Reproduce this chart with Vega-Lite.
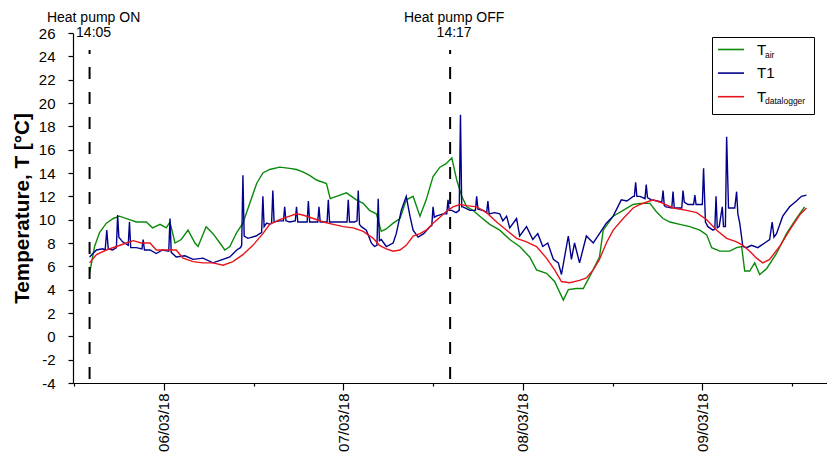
{
"$schema": "https://vega.github.io/schema/vega-lite/v6.json",
"width": 754,
"height": 350,
"autosize": {"type": "none"},
"padding": {"left": 73, "top": 33, "right": 0, "bottom": 75},
"config": {
  "font": "Liberation Sans",
  "view": {"stroke": null},
  "axis": {"grid": false, "domainColor": "#000", "tickColor": "#000", "labelColor": "#000", "titleColor": "#000", "labelFontSize": 15, "labelFont": "Liberation Sans", "domainWidth": 1.2, "tickWidth": 1.2, "labelOverlap": false},
  "legend": {"labelFont": "Liberation Sans", "labelColor": "#000"}
},
"datasets": {
  "air": [
    {"t":"2018-03-05T14:05Z","v":5.4},{"t":"2018-03-05T14:45Z","v":7.7},{"t":"2018-03-05T15:25Z","v":8.9},{"t":"2018-03-05T16:20Z","v":9.7},{"t":"2018-03-05T17:15Z","v":10.1},{"t":"2018-03-05T18:05Z","v":10.3},{"t":"2018-03-05T19:25Z","v":10.0},{"t":"2018-03-05T20:20Z","v":9.8},{"t":"2018-03-05T21:40Z","v":9.8},{"t":"2018-03-05T22:30Z","v":9.3},{"t":"2018-03-05T23:30Z","v":9.6},
    {"t":"2018-03-06T00:20Z","v":9.3},{"t":"2018-03-06T00:50Z","v":9.8},{"t":"2018-03-06T01:30Z","v":8.0},{"t":"2018-03-06T02:20Z","v":8.3},{"t":"2018-03-06T03:15Z","v":9.1},{"t":"2018-03-06T04:10Z","v":8.0},{"t":"2018-03-06T04:35Z","v":7.7},{"t":"2018-03-06T05:40Z","v":9.4},{"t":"2018-03-06T06:35Z","v":8.8},{"t":"2018-03-06T07:30Z","v":8.0},{"t":"2018-03-06T08:10Z","v":7.4},{"t":"2018-03-06T08:50Z","v":7.7},{"t":"2018-03-06T09:45Z","v":8.9},{"t":"2018-03-06T10:35Z","v":9.7},{"t":"2018-03-06T11:30Z","v":11.4},{"t":"2018-03-06T12:25Z","v":13.1},{"t":"2018-03-06T13:15Z","v":14.0},{"t":"2018-03-06T14:10Z","v":14.3},{"t":"2018-03-06T15:30Z","v":14.5},{"t":"2018-03-06T16:50Z","v":14.4},{"t":"2018-03-06T17:45Z","v":14.3},{"t":"2018-03-06T18:35Z","v":14.1},{"t":"2018-03-06T19:30Z","v":13.8},{"t":"2018-03-06T20:25Z","v":13.4},{"t":"2018-03-06T21:45Z","v":13.1},{"t":"2018-03-06T22:15Z","v":11.8},{"t":"2018-03-06T23:05Z","v":12.0},
    {"t":"2018-03-07T00:25Z","v":12.3},{"t":"2018-03-07T01:45Z","v":11.7},{"t":"2018-03-07T02:40Z","v":11.4},{"t":"2018-03-07T03:30Z","v":10.8},{"t":"2018-03-07T04:25Z","v":10.5},{"t":"2018-03-07T05:05Z","v":9.0},{"t":"2018-03-07T05:45Z","v":9.2},{"t":"2018-03-07T06:40Z","v":9.7},{"t":"2018-03-07T07:35Z","v":10.1},{"t":"2018-03-07T08:25Z","v":11.7},{"t":"2018-03-07T09:20Z","v":12.0},{"t":"2018-03-07T10:15Z","v":10.3},{"t":"2018-03-07T11:05Z","v":11.7},{"t":"2018-03-07T12:00Z","v":13.7},{"t":"2018-03-07T12:55Z","v":14.5},{"t":"2018-03-07T13:45Z","v":14.8},{"t":"2018-03-07T14:30Z","v":15.3},{"t":"2018-03-07T15:10Z","v":13.4},{"t":"2018-03-07T15:50Z","v":12.0},{"t":"2018-03-07T16:30Z","v":11.1},{"t":"2018-03-07T17:20Z","v":10.8},{"t":"2018-03-07T18:15Z","v":10.3},{"t":"2018-03-07T19:35Z","v":9.6},{"t":"2018-03-07T20:55Z","v":9.1},{"t":"2018-03-07T22:15Z","v":8.3},{"t":"2018-03-07T23:35Z","v":7.7},
    {"t":"2018-03-08T00:55Z","v":6.8},{"t":"2018-03-08T01:50Z","v":5.7},{"t":"2018-03-08T03:10Z","v":5.4},{"t":"2018-03-08T04:15Z","v":4.7},{"t":"2018-03-08T05:25Z","v":3.1},{"t":"2018-03-08T06:05Z","v":4.0},{"t":"2018-03-08T07:10Z","v":4.1},{"t":"2018-03-08T08:05Z","v":4.1},{"t":"2018-03-08T08:55Z","v":5.1},{"t":"2018-03-08T10:15Z","v":6.8},{"t":"2018-03-08T10:45Z","v":9.1},{"t":"2018-03-08T12:05Z","v":10.3},{"t":"2018-03-08T13:25Z","v":10.8},{"t":"2018-03-08T14:45Z","v":11.3},{"t":"2018-03-08T15:40Z","v":11.4},{"t":"2018-03-08T17:00Z","v":11.4},{"t":"2018-03-08T17:50Z","v":10.7},{"t":"2018-03-08T18:45Z","v":10.1},{"t":"2018-03-08T19:40Z","v":9.8},{"t":"2018-03-08T21:00Z","v":9.6},{"t":"2018-03-08T22:20Z","v":9.4},{"t":"2018-03-08T23:40Z","v":9.1},
    {"t":"2018-03-09T00:35Z","v":8.7},{"t":"2018-03-09T01:15Z","v":7.6},{"t":"2018-03-09T02:20Z","v":7.3},{"t":"2018-03-09T03:40Z","v":7.3},{"t":"2018-03-09T04:35Z","v":7.6},{"t":"2018-03-09T05:15Z","v":7.7},{"t":"2018-03-09T05:40Z","v":5.6},{"t":"2018-03-09T06:20Z","v":5.6},{"t":"2018-03-09T07:00Z","v":6.3},{"t":"2018-03-09T07:40Z","v":5.3},{"t":"2018-03-09T08:35Z","v":5.8},{"t":"2018-03-09T09:55Z","v":7.1},{"t":"2018-03-09T11:15Z","v":8.8},{"t":"2018-03-09T12:35Z","v":10.1},{"t":"2018-03-09T13:40Z","v":11.1}
  ],
  "t1": [
    {"t":"2018-03-05T14:05Z","v":6.8},{"t":"2018-03-05T15:00Z","v":7.4},{"t":"2018-03-05T15:50Z","v":7.5},{"t":"2018-03-05T16:10Z","v":7.4},{"t":"2018-03-05T16:23Z","v":9.1},{"t":"2018-03-05T16:35Z","v":7.5},{"t":"2018-03-05T17:10Z","v":7.4},{"t":"2018-03-05T17:40Z","v":7.6},{"t":"2018-03-05T17:50Z","v":10.4},{"t":"2018-03-05T18:00Z","v":8.5},{"t":"2018-03-05T18:30Z","v":8.1},{"t":"2018-03-05T19:15Z","v":7.8},{"t":"2018-03-05T19:25Z","v":9.8},{"t":"2018-03-05T19:35Z","v":7.6},{"t":"2018-03-05T20:20Z","v":7.6},{"t":"2018-03-05T21:05Z","v":7.5},{"t":"2018-03-05T21:15Z","v":8.3},{"t":"2018-03-05T21:25Z","v":7.4},{"t":"2018-03-05T22:10Z","v":7.4},{"t":"2018-03-05T23:00Z","v":7.1},{"t":"2018-03-05T23:50Z","v":7.4},
    {"t":"2018-03-06T00:40Z","v":7.3},{"t":"2018-03-06T00:50Z","v":10.1},{"t":"2018-03-06T01:00Z","v":7.2},{"t":"2018-03-06T01:40Z","v":6.8},{"t":"2018-03-06T02:50Z","v":6.9},{"t":"2018-03-06T03:55Z","v":6.6},{"t":"2018-03-06T05:15Z","v":6.7},{"t":"2018-03-06T06:35Z","v":6.3},{"t":"2018-03-06T07:55Z","v":6.6},{"t":"2018-03-06T08:50Z","v":6.8},{"t":"2018-03-06T09:45Z","v":7.4},{"t":"2018-03-06T10:15Z","v":7.6},{"t":"2018-03-06T10:25Z","v":7.8},{"t":"2018-03-06T10:35Z","v":13.8},{"t":"2018-03-06T10:45Z","v":8.6},{"t":"2018-03-06T11:15Z","v":8.4},{"t":"2018-03-06T12:20Z","v":8.6},{"t":"2018-03-06T12:50Z","v":8.8},{"t":"2018-03-06T13:05Z","v":8.9},{"t":"2018-03-06T13:15Z","v":12.0},{"t":"2018-03-06T13:25Z","v":9.4},{"t":"2018-03-06T13:45Z","v":9.7},{"t":"2018-03-06T14:10Z","v":9.6},{"t":"2018-03-06T14:25Z","v":9.7},{"t":"2018-03-06T14:35Z","v":12.5},{"t":"2018-03-06T14:45Z","v":9.8},{"t":"2018-03-06T15:30Z","v":9.9},{"t":"2018-03-06T16:00Z","v":9.9},{"t":"2018-03-06T16:10Z","v":11.1},{"t":"2018-03-06T16:20Z","v":9.9},{"t":"2018-03-06T16:50Z","v":9.8},{"t":"2018-03-06T17:35Z","v":9.9},{"t":"2018-03-06T17:45Z","v":11.1},{"t":"2018-03-06T17:55Z","v":9.8},{"t":"2018-03-06T18:35Z","v":9.8},{"t":"2018-03-06T19:10Z","v":9.8},{"t":"2018-03-06T19:20Z","v":11.6},{"t":"2018-03-06T19:30Z","v":9.8},{"t":"2018-03-06T20:05Z","v":9.8},{"t":"2018-03-06T20:35Z","v":9.8},{"t":"2018-03-06T20:45Z","v":11.1},{"t":"2018-03-06T20:55Z","v":9.8},{"t":"2018-03-06T21:20Z","v":9.8},{"t":"2018-03-06T21:50Z","v":9.8},{"t":"2018-03-06T22:00Z","v":11.7},{"t":"2018-03-06T22:10Z","v":9.8},{"t":"2018-03-06T22:50Z","v":9.8},{"t":"2018-03-06T23:30Z","v":9.8},
    {"t":"2018-03-07T00:10Z","v":9.8},{"t":"2018-03-07T00:30Z","v":9.8},{"t":"2018-03-07T00:40Z","v":11.7},{"t":"2018-03-07T00:50Z","v":9.8},{"t":"2018-03-07T01:30Z","v":9.8},{"t":"2018-03-07T01:50Z","v":9.9},{"t":"2018-03-07T02:00Z","v":12.5},{"t":"2018-03-07T02:10Z","v":9.6},{"t":"2018-03-07T02:25Z","v":9.4},{"t":"2018-03-07T03:05Z","v":9.1},{"t":"2018-03-07T03:45Z","v":8.0},{"t":"2018-03-07T04:10Z","v":7.7},{"t":"2018-03-07T04:30Z","v":7.8},{"t":"2018-03-07T04:40Z","v":11.8},{"t":"2018-03-07T04:50Z","v":8.2},{"t":"2018-03-07T05:05Z","v":8.3},{"t":"2018-03-07T05:45Z","v":7.7},{"t":"2018-03-07T06:40Z","v":8.0},{"t":"2018-03-07T07:05Z","v":8.8},{"t":"2018-03-07T07:45Z","v":10.8},{"t":"2018-03-07T08:25Z","v":12.0},{"t":"2018-03-07T08:55Z","v":10.3},{"t":"2018-03-07T09:20Z","v":9.1},{"t":"2018-03-07T10:00Z","v":8.5},{"t":"2018-03-07T10:45Z","v":8.8},{"t":"2018-03-07T11:35Z","v":9.4},{"t":"2018-03-07T11:50Z","v":9.5},{"t":"2018-03-07T12:00Z","v":11.1},{"t":"2018-03-07T12:10Z","v":10.2},{"t":"2018-03-07T12:25Z","v":10.3},{"t":"2018-03-07T13:20Z","v":10.5},{"t":"2018-03-07T13:50Z","v":10.5},{"t":"2018-03-07T14:00Z","v":11.7},{"t":"2018-03-07T14:10Z","v":10.8},{"t":"2018-03-07T14:30Z","v":10.8},{"t":"2018-03-07T15:05Z","v":10.6},{"t":"2018-03-07T15:30Z","v":10.8},{"t":"2018-03-07T15:40Z","v":19.0},{"t":"2018-03-07T15:50Z","v":11.1},{"t":"2018-03-07T16:00Z","v":11.1},{"t":"2018-03-07T16:55Z","v":10.8},{"t":"2018-03-07T17:40Z","v":10.8},{"t":"2018-03-07T17:50Z","v":12.0},{"t":"2018-03-07T18:00Z","v":10.9},{"t":"2018-03-07T18:40Z","v":10.8},{"t":"2018-03-07T19:10Z","v":10.6},{"t":"2018-03-07T19:20Z","v":11.6},{"t":"2018-03-07T19:30Z","v":10.5},{"t":"2018-03-07T20:15Z","v":10.6},{"t":"2018-03-07T20:55Z","v":10.5},{"t":"2018-03-07T21:20Z","v":9.9},{"t":"2018-03-07T21:50Z","v":10.3},{"t":"2018-03-07T22:15Z","v":9.3},{"t":"2018-03-07T23:10Z","v":10.1},{"t":"2018-03-07T23:35Z","v":8.6},
    {"t":"2018-03-08T00:30Z","v":9.4},{"t":"2018-03-08T01:20Z","v":8.3},{"t":"2018-03-08T02:00Z","v":8.8},{"t":"2018-03-08T02:40Z","v":7.7},{"t":"2018-03-08T03:20Z","v":8.0},{"t":"2018-03-08T04:05Z","v":6.6},{"t":"2018-03-08T04:45Z","v":6.3},{"t":"2018-03-08T05:10Z","v":5.3},{"t":"2018-03-08T06:05Z","v":8.6},{"t":"2018-03-08T06:30Z","v":6.6},{"t":"2018-03-08T06:55Z","v":8.0},{"t":"2018-03-08T07:35Z","v":6.3},{"t":"2018-03-08T08:30Z","v":8.6},{"t":"2018-03-08T09:25Z","v":8.0},{"t":"2018-03-08T10:15Z","v":8.8},{"t":"2018-03-08T11:10Z","v":9.7},{"t":"2018-03-08T12:05Z","v":10.3},{"t":"2018-03-08T13:10Z","v":11.7},{"t":"2018-03-08T13:55Z","v":11.6},{"t":"2018-03-08T14:45Z","v":12.0},{"t":"2018-03-08T14:55Z","v":12.0},{"t":"2018-03-08T15:05Z","v":13.2},{"t":"2018-03-08T15:15Z","v":12.0},{"t":"2018-03-08T15:40Z","v":12.0},{"t":"2018-03-08T16:20Z","v":11.8},{"t":"2018-03-08T16:30Z","v":13.0},{"t":"2018-03-08T16:40Z","v":11.9},{"t":"2018-03-08T17:10Z","v":11.7},{"t":"2018-03-08T18:00Z","v":11.6},{"t":"2018-03-08T18:35Z","v":11.5},{"t":"2018-03-08T18:45Z","v":12.5},{"t":"2018-03-08T18:55Z","v":11.2},{"t":"2018-03-08T19:10Z","v":11.1},{"t":"2018-03-08T19:55Z","v":11.0},{"t":"2018-03-08T20:05Z","v":12.4},{"t":"2018-03-08T20:15Z","v":11.0},{"t":"2018-03-08T20:30Z","v":11.0},{"t":"2018-03-08T21:15Z","v":11.0},{"t":"2018-03-08T21:25Z","v":12.5},{"t":"2018-03-08T21:35Z","v":11.5},{"t":"2018-03-08T22:05Z","v":11.3},{"t":"2018-03-08T22:50Z","v":11.3},{"t":"2018-03-08T23:00Z","v":12.1},{"t":"2018-03-08T23:10Z","v":11.3},{"t":"2018-03-08T23:40Z","v":11.3},
    {"t":"2018-03-09T00:00Z","v":11.3},{"t":"2018-03-09T00:10Z","v":14.4},{"t":"2018-03-09T00:25Z","v":9.8},{"t":"2018-03-09T00:45Z","v":9.4},{"t":"2018-03-09T01:25Z","v":9.1},{"t":"2018-03-09T01:40Z","v":9.2},{"t":"2018-03-09T01:50Z","v":12.0},{"t":"2018-03-09T02:00Z","v":9.3},{"t":"2018-03-09T02:15Z","v":9.4},{"t":"2018-03-09T02:40Z","v":11.1},{"t":"2018-03-09T02:50Z","v":9.4},{"t":"2018-03-09T03:05Z","v":9.4},{"t":"2018-03-09T03:15Z","v":17.1},{"t":"2018-03-09T03:30Z","v":11.0},{"t":"2018-03-09T04:20Z","v":11.0},{"t":"2018-03-09T04:35Z","v":12.4},{"t":"2018-03-09T04:45Z","v":10.5},{"t":"2018-03-09T05:00Z","v":9.7},{"t":"2018-03-09T05:25Z","v":7.7},{"t":"2018-03-09T05:55Z","v":7.6},{"t":"2018-03-09T06:35Z","v":7.8},{"t":"2018-03-09T07:25Z","v":7.6},{"t":"2018-03-09T08:20Z","v":8.0},{"t":"2018-03-09T09:00Z","v":8.3},{"t":"2018-03-09T09:20Z","v":9.8},{"t":"2018-03-09T09:35Z","v":8.5},{"t":"2018-03-09T09:55Z","v":8.8},{"t":"2018-03-09T10:45Z","v":10.3},{"t":"2018-03-09T11:40Z","v":11.1},{"t":"2018-03-09T12:35Z","v":11.6},{"t":"2018-03-09T13:15Z","v":12.0},{"t":"2018-03-09T13:55Z","v":12.1}
  ],
  "dl": [
    {"t":"2018-03-05T14:05Z","v":6.3},{"t":"2018-03-05T15:00Z","v":7.0},{"t":"2018-03-05T16:20Z","v":7.4},{"t":"2018-03-05T17:40Z","v":7.7},{"t":"2018-03-05T19:00Z","v":8.0},{"t":"2018-03-05T19:55Z","v":8.2},{"t":"2018-03-05T21:00Z","v":8.0},{"t":"2018-03-05T22:10Z","v":8.0},{"t":"2018-03-05T23:00Z","v":7.4},
    {"t":"2018-03-06T00:20Z","v":7.4},{"t":"2018-03-06T01:40Z","v":7.4},{"t":"2018-03-06T02:35Z","v":6.7},{"t":"2018-03-06T03:55Z","v":6.4},{"t":"2018-03-06T05:15Z","v":6.3},{"t":"2018-03-06T06:35Z","v":6.3},{"t":"2018-03-06T07:55Z","v":6.1},{"t":"2018-03-06T09:15Z","v":6.4},{"t":"2018-03-06T10:35Z","v":7.0},{"t":"2018-03-06T11:55Z","v":7.8},{"t":"2018-03-06T13:15Z","v":8.8},{"t":"2018-03-06T14:10Z","v":9.6},{"t":"2018-03-06T15:30Z","v":10.0},{"t":"2018-03-06T16:50Z","v":10.3},{"t":"2018-03-06T17:45Z","v":10.5},{"t":"2018-03-06T18:35Z","v":10.4},{"t":"2018-03-06T20:00Z","v":10.1},{"t":"2018-03-06T21:20Z","v":9.8},{"t":"2018-03-06T22:40Z","v":9.6},
    {"t":"2018-03-07T00:00Z","v":9.4},{"t":"2018-03-07T01:20Z","v":9.3},{"t":"2018-03-07T02:40Z","v":9.0},{"t":"2018-03-07T04:00Z","v":8.4},{"t":"2018-03-07T04:50Z","v":7.8},{"t":"2018-03-07T05:45Z","v":7.5},{"t":"2018-03-07T06:40Z","v":7.3},{"t":"2018-03-07T07:35Z","v":7.4},{"t":"2018-03-07T08:25Z","v":7.8},{"t":"2018-03-07T09:20Z","v":8.6},{"t":"2018-03-07T10:15Z","v":8.8},{"t":"2018-03-07T11:05Z","v":9.1},{"t":"2018-03-07T12:00Z","v":9.7},{"t":"2018-03-07T12:55Z","v":10.2},{"t":"2018-03-07T13:45Z","v":10.7},{"t":"2018-03-07T14:40Z","v":11.1},{"t":"2018-03-07T15:35Z","v":11.3},{"t":"2018-03-07T16:30Z","v":11.2},{"t":"2018-03-07T17:50Z","v":11.1},{"t":"2018-03-07T19:10Z","v":10.6},{"t":"2018-03-07T20:30Z","v":9.8},{"t":"2018-03-07T21:50Z","v":9.1},{"t":"2018-03-07T23:10Z","v":8.4},
    {"t":"2018-03-08T00:30Z","v":8.1},{"t":"2018-03-08T01:50Z","v":7.7},{"t":"2018-03-08T03:10Z","v":6.7},{"t":"2018-03-08T04:15Z","v":5.7},{"t":"2018-03-08T05:10Z","v":4.7},{"t":"2018-03-08T06:15Z","v":4.6},{"t":"2018-03-08T07:35Z","v":4.8},{"t":"2018-03-08T08:30Z","v":5.0},{"t":"2018-03-08T09:25Z","v":5.7},{"t":"2018-03-08T10:15Z","v":6.6},{"t":"2018-03-08T11:10Z","v":8.0},{"t":"2018-03-08T12:05Z","v":9.1},{"t":"2018-03-08T13:25Z","v":10.1},{"t":"2018-03-08T14:45Z","v":11.0},{"t":"2018-03-08T15:40Z","v":11.3},{"t":"2018-03-08T17:25Z","v":11.7},{"t":"2018-03-08T18:45Z","v":11.4},{"t":"2018-03-08T20:05Z","v":11.0},{"t":"2018-03-08T21:55Z","v":10.8},{"t":"2018-03-08T23:15Z","v":10.6},
    {"t":"2018-03-09T00:35Z","v":10.0},{"t":"2018-03-09T01:55Z","v":9.1},{"t":"2018-03-09T03:15Z","v":8.4},{"t":"2018-03-09T04:35Z","v":8.1},{"t":"2018-03-09T05:25Z","v":7.8},{"t":"2018-03-09T06:20Z","v":7.3},{"t":"2018-03-09T07:15Z","v":6.7},{"t":"2018-03-09T08:05Z","v":6.3},{"t":"2018-03-09T09:00Z","v":6.6},{"t":"2018-03-09T10:20Z","v":7.7},{"t":"2018-03-09T11:40Z","v":9.1},{"t":"2018-03-09T13:00Z","v":10.4},{"t":"2018-03-09T13:55Z","v":11.0}
  ],
  "events": [
    {"t":"2018-03-05T14:05Z","label":"Heat pump ON","time":"14:05"},
    {"t":"2018-03-07T14:17Z","label":"Heat pump OFF","time":"14:17"}
  ]
},
"layer": [
  {
    "data": {"name": "air"},
    "mark": {"type": "line", "strokeWidth": 1.4},
    "encoding": {
      "x": {"field": "t", "type": "temporal",
        "scale": {"type": "utc", "domain": [{"year": 2018, "month": 3, "date": 5, "hours": 11, "minutes": 52, "utc": true}, {"year": 2018, "month": 3, "date": 9, "hours": 16, "minutes": 40, "utc": true}]},
        "axis": {"title": null, "tickCount": 40,
          "values": [{"year": 2018, "month": 3, "date": 5, "hours": 12, "utc": true}, {"year": 2018, "month": 3, "date": 6, "hours": 0, "utc": true}, {"year": 2018, "month": 3, "date": 6, "hours": 12, "utc": true}, {"year": 2018, "month": 3, "date": 7, "hours": 0, "utc": true}, {"year": 2018, "month": 3, "date": 7, "hours": 12, "utc": true}, {"year": 2018, "month": 3, "date": 8, "hours": 0, "utc": true}, {"year": 2018, "month": 3, "date": 8, "hours": 12, "utc": true}, {"year": 2018, "month": 3, "date": 9, "hours": 0, "utc": true}, {"year": 2018, "month": 3, "date": 9, "hours": 12, "utc": true}],
          "labelExpr": "utchours(datum.value) == 0 ? utcFormat(datum.value, '%d/%m/%y') : ''",
          "labelAngle": 270, "labelPadding": 3, "labelFontSize": 15, "labelOverlap": false,
          "tickSize": {"condition": {"test": "utchours(datum.value) == 0", "value": 7}, "value": 3}
        }
      },
      "y": {"field": "v", "type": "quantitative",
        "scale": {"domain": [-4, 26], "nice": false, "zero": false},
        "axis": {"title": "Temperature, T [°C]", "tickCount": 40, "values": [-4, -2, 0, 2, 4, 6, 8, 10, 12, 14, 16, 18, 20, 22, 24, 26], "labelExpr": "'' + datum.value", "labelOverlap": false, "tickSize": 5, "labelPadding": 13, "titleFontSize": 20.7, "titleFontWeight": "bold", "titlePadding": 6}
      },
      "color": {"datum": "Tair", "type": "nominal",
        "scale": {"domain": ["Tair", "T1", "Tdatalogger"], "range": ["#0a8a0a", "#00008c", "#e8141c"]},
        "legend": {"orient": "none", "legendX": 644, "legendY": 2.5, "title": null, "symbolType": "stroke", "symbolSize": 676, "symbolStrokeWidth": 1.6, "labelFontSize": 15, "labelOffset": 12, "rowPadding": 1.6, "padding": 0, "labelExpr": "datum.label == 'T1' ? 'T1' : 'T'"}
      },
      "strokeWidth": {"datum": "air", "type": "ordinal",
        "scale": {"domain": ["air", "1", "datalogger"], "range": [1.4, 1.4]},
        "legend": {"orient": "none", "legendX": 639, "legendY": 4, "title": null, "symbolType": "circle", "symbolSize": 78, "symbolOpacity": 0, "symbolStrokeColor": "transparent", "symbolFillColor": "transparent", "labelFontSize": 8.5, "labelBaseline": "top", "labelOffset": 34, "rowPadding": 9.3, "padding": 8, "strokeColor": "#000", "labelExpr": "datum.label == '1' ? '' : datum.label"}
      }
    }
  },
  {
    "data": {"name": "t1"},
    "mark": {"type": "line", "strokeWidth": 1.4},
    "encoding": {
      "x": {"field": "t", "type": "temporal"},
      "y": {"field": "v", "type": "quantitative"},
      "color": {"datum": "T1", "type": "nominal"},
      "strokeWidth": {"datum": "1", "type": "ordinal"}
    }
  },
  {
    "data": {"name": "dl"},
    "mark": {"type": "line", "strokeWidth": 1.4},
    "encoding": {
      "x": {"field": "t", "type": "temporal"},
      "y": {"field": "v", "type": "quantitative"},
      "color": {"datum": "Tdatalogger", "type": "nominal"},
      "strokeWidth": {"datum": "datalogger", "type": "ordinal"}
    }
  },
  {
    "data": {"name": "events"},
    "mark": {"type": "rule", "color": "#000", "strokeWidth": 2, "strokeDash": [12, 13], "strokeDashOffset": 8},
    "encoding": {
      "x": {"field": "t", "type": "temporal"},
      "y": {"datum": 24.55},
      "y2": {"datum": -4}
    }
  },
  {
    "data": {"name": "events"},
    "mark": {"type": "text", "fontSize": 14, "dx": 4, "baseline": "middle", "color": "#000"},
    "encoding": {
      "x": {"field": "t", "type": "temporal"},
      "y": {"datum": 27.3},
      "text": {"field": "label"}
    }
  },
  {
    "data": {"name": "events"},
    "mark": {"type": "text", "fontSize": 14, "dx": 4, "baseline": "middle", "color": "#000"},
    "encoding": {
      "x": {"field": "t", "type": "temporal"},
      "y": {"datum": 26},
      "text": {"field": "time"}
    }
  }
]
}
